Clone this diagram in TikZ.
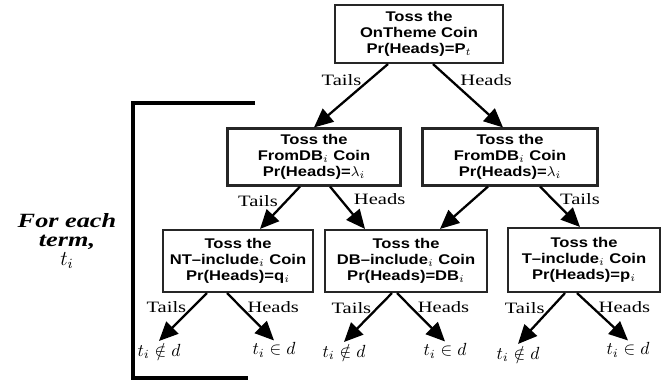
\documentclass[tikz,border=0pt]{standalone}
\usepackage{fontspec}
\usepackage{amsmath}
\usepackage{tikz}
\usetikzlibrary{arrows.meta}
\newfontfamily\boxfont[FakeStretch=1.18]{Liberation Sans}
\newfontfamily\lblfont[FakeStretch=1.3]{Liberation Serif}

\begin{document}
\begin{tikzpicture}[x=0.02cm, y=-0.02cm,
  coin/.style={draw=black!85, line width=1.2pt, rectangle, align=center,
    font=\boxfont\bfseries\fontsize{8}{9}\selectfont, inner sep=2pt},
  edgelbl/.style={font=\lblfont\fontsize{9}{10}\selectfont, inner sep=1pt},
  leaf/.style={font=\normalsize, inner sep=1pt},
  toss/.style={-{Triangle[length=0.38cm,width=0.34cm]}, line width=1.3pt}]

\useasboundingbox (0,0) rectangle (670,381);

% coins
\node [coin, minimum width=3.36cm, minimum height=1.16cm] (ontheme) at (419,34) {Toss the\\OnTheme Coin\\Pr(Heads)=P$_t$};

\node [coin, minimum width=3.46cm, minimum height=1.14cm] (fromL) at (314,157) {Toss the\\FromDB$_i$ Coin\\Pr(Heads)=$\lambda_i$};

\node [coin, minimum width=3.5cm, minimum height=1.14cm] (fromR) at (510,157) {Toss the\\FromDB$_i$ Coin\\Pr(Heads)=$\lambda_i$};

\node [coin, minimum width=3cm, minimum height=1.24cm] (ntinc) at (238,261) {Toss the\\NT–include$_i$ Coin\\Pr(Heads)=q$_i$};

\node [coin, minimum width=3.24cm, minimum height=1.24cm] (dbinc) at (406,261) {Toss the\\DB–include$_i$ Coin\\Pr(Heads)=DB$_i$};

\node [coin, minimum width=3.04cm, minimum height=1.28cm] (tinc) at (584,260) {Toss the\\T–include$_i$ Coin\\Pr(Heads)=p$_i$};

% outcomes
\node [leaf] (ntout) at (159,351) {$t_i \notin d$};
\node [leaf] (ntin) at (274,350) {$t_i \in d$};
\node [leaf] (dbout) at (344,352) {$t_i \notin d$};
\node [leaf] (dbin) at (445,351) {$t_i \in d$};
\node [leaf] (tout) at (518,354) {$t_i \notin d$};
\node [leaf] (tin) at (628,350) {$t_i \in d$};

% bracket
\draw [line width=2.2pt] (255,103) -| (133,378) -- (248,378);
\node [font=\lblfont\bfseries\itshape\fontsize{11.5}{11}\selectfont, align=center] (term) at (67,241) {For each\\term,\\$t_i$};

% tosses
\draw [toss] ([xshift=-0.62cm]ontheme.south) -- node[edgelbl, pos=0.25, left=3pt] {Tails} (fromL.north);
\draw [toss] ([xshift=0.28cm]ontheme.south) -- node[edgelbl, pos=0.25, right=4pt] {Heads} ([xshift=-0.14cm]fromR.north);

\draw [toss] ([xshift=-0.28cm]fromL.south) -- node[edgelbl, pos=0.35, left=3pt] {Tails} ([xshift=0.44cm]ntinc.north);
\draw [toss] ([xshift=0.32cm]fromL.south) -- node[edgelbl, pos=0.3, right=6pt] {Heads} ([xshift=-0.82cm]dbinc.north);

\draw [toss] ([xshift=-0.44cm]fromR.south) -- ([xshift=0.68cm]dbinc.north);
\draw [toss] ([xshift=0.6cm]fromR.south) -- node[edgelbl, pos=0.3, right=3pt] {Tails} ([xshift=-0.08cm]tinc.north);

\draw [toss] ([xshift=-0.62cm]ntinc.south) -- node[edgelbl, pos=0.3, left=2pt] {Tails} (ntout.north);
\draw [toss] ([xshift=-0.22cm]ntinc.south) -- node[edgelbl, pos=0.3, right=2pt] {Heads} (ntin.north);

\draw [toss] ([xshift=-0.28cm]dbinc.south) -- node[edgelbl, pos=0.3, left=2pt] {Tails} (dbout.north);
\draw [toss] ([xshift=-0.18cm]dbinc.south) -- node[edgelbl, pos=0.3, right=2pt] {Heads} (dbin.north);

\draw [toss] ([xshift=-0.38cm]tinc.south) -- node[edgelbl, pos=0.3, left=2pt] {Tails} (tout.north);
\draw [toss] ([xshift=-0.14cm]tinc.south) -- node[edgelbl, pos=0.3, right=2pt] {Heads} (tin.north);

\end{tikzpicture}
\end{document}
